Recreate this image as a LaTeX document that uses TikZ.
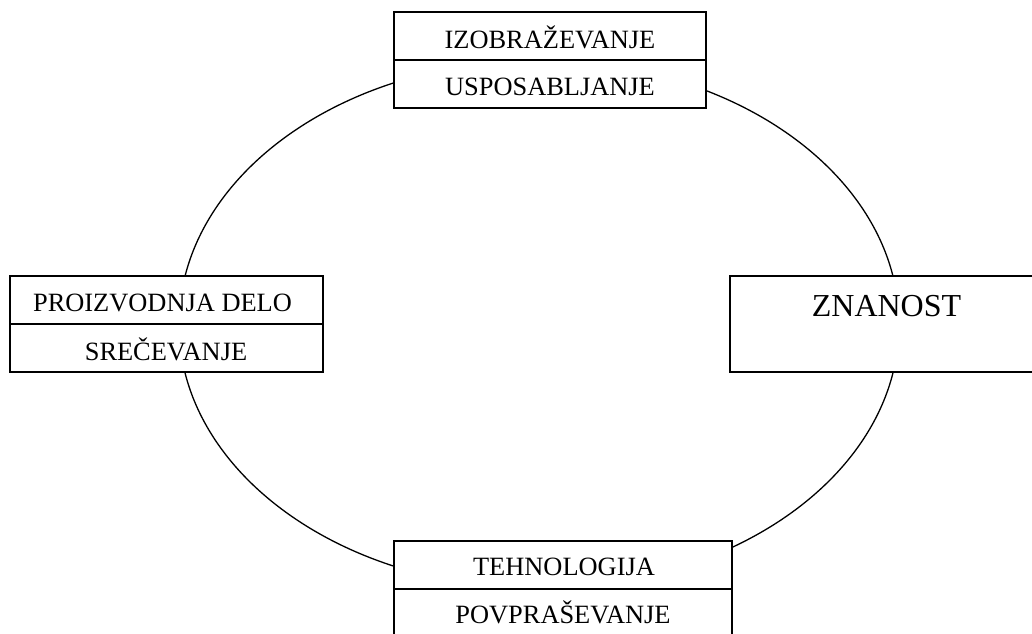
\documentclass[tikz,border=0pt]{standalone}
\usepackage{fontspec}
\setmainfont{Liberation Serif}
\begin{document}
\begin{tikzpicture}[x=1pt,y=1pt,
  box/.style={draw=black, line width=1.6pt, fill=white, inner sep=0pt},
  lbl/.style={inner sep=0pt, anchor=base, font=\fontsize{26.4}{30}\selectfont},
  big/.style={inner sep=0pt, anchor=base, font=\fontsize{32}{36}\selectfont},
  ring/.style={draw=black, line width=1.3pt}]
\useasboundingbox (0,0) rectangle (1032,-633);
\clip (0,0) rectangle (1032,-633);
% ellipse
\draw[ring] (539,-324.5) ellipse [x radius=360, y radius=264];
% boxes
\node[box, minimum width=312pt, minimum height=96pt] (top) at (550,-60) {};
\draw[line width=1.6pt] (top.west) -- (top.east);
\node[box, minimum width=313pt, minimum height=96pt] (left) at (166.5,-324) {};
\draw[line width=1.6pt] (left.west) -- (left.east);
\node[box, minimum width=320pt, minimum height=96pt] (right) at (890,-324) {};
\node[box, minimum width=338pt, minimum height=96pt] (bottom) at (563,-589) {};
\draw[line width=1.6pt] (bottom.west) -- (bottom.east);
% labels
\node[lbl] (t1) at (550,-48.2) {IZOBRAŽEVANJE};
\node[lbl] (t2) at (550,-95.7) {USPOSABLJANJE};
\node[lbl] (l1) at (162.5,-311.7) {PROIZVODNJA DELO};
\node[lbl] (l2) at (166,-360.7) {SREČEVANJE};
\node[big] (r1) at (886.5,-316.4) {ZNANOST};
\node[lbl] (b1) at (564,-575.7) {TEHNOLOGIJA};
\node[lbl] (b2) at (563,-623.7) {POVPRAŠEVANJE};
\end{tikzpicture}
\end{document}
